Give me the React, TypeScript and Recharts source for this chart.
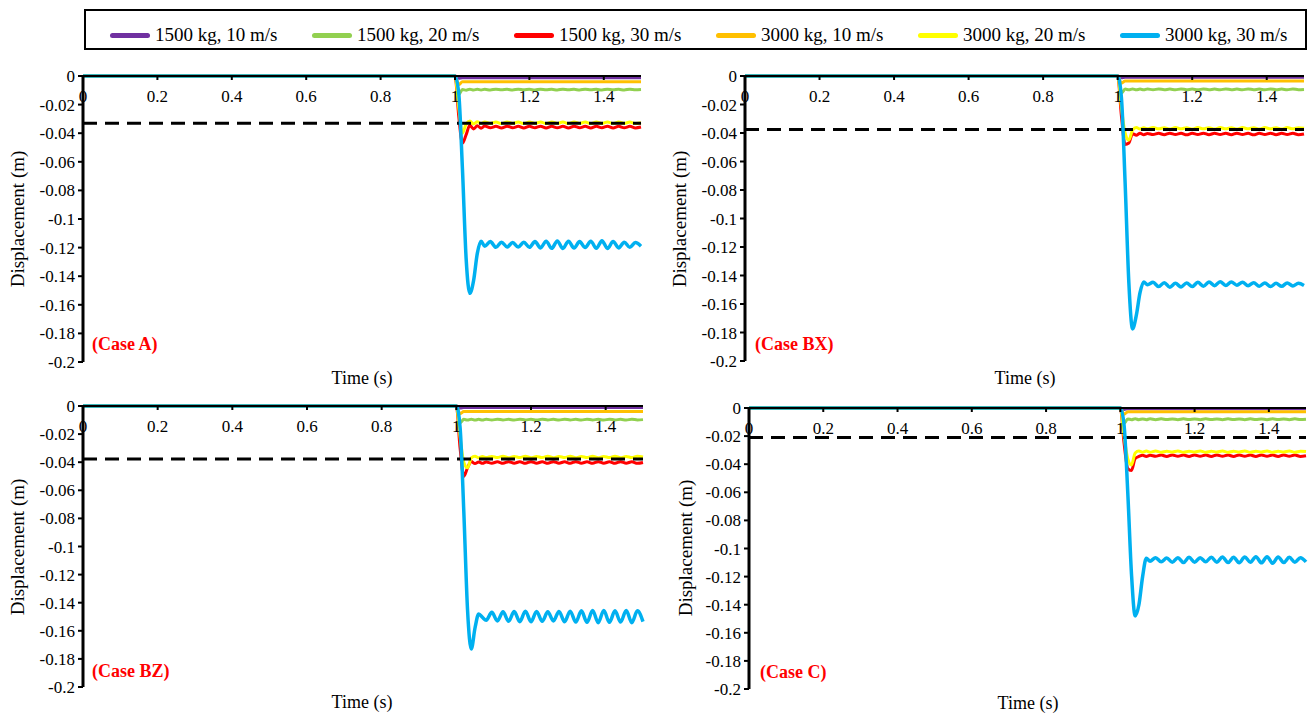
import React from "react";
import { Line, LineChart, XAxis, YAxis } from "recharts";

const FONT = '"Liberation Serif", "Times New Roman", serif';

// time grids (s)
const time = [
  0, 0.99, 1, 1.01, 1.02, 1.03, 1.04, 1.05, 1.06, 1.07, 1.08, 1.095, 1.11, 1.125, 1.14, 1.155, 1.17,
  1.185, 1.2, 1.215, 1.23, 1.245, 1.26, 1.275, 1.29, 1.305, 1.32, 1.335, 1.35, 1.365, 1.38, 1.395,
  1.41, 1.425, 1.44, 1.455, 1.47, 1.485, 1.5,
];
const timeFlat = [0, 0.99, 1, 1.01, 1.02, 1.5];
const timeLimit = [0, 1.5];

const xTicks = [0, 0.2, 0.4, 0.6, 0.8, 1, 1.2, 1.4];
const yTicks = [0, -0.02, -0.04, -0.06, -0.08, -0.1, -0.12, -0.14, -0.16, -0.18, -0.2];

const seriesNames = [
  "1500 kg, 10 m/s",
  "1500 kg, 20 m/s",
  "1500 kg, 30 m/s",
  "3000 kg, 10 m/s",
  "3000 kg, 20 m/s",
  "3000 kg, 30 m/s",
];
const seriesColors = ["#7030A0", "#92D050", "#FF0000", "#FFC000", "#FFFF00", "#00B0F0"];

// Case A
const purpleA = [0, 0, 0, -0.0015, -0.0012, -0.0012];
const orangeA = [0, 0, 0, -0.006, -0.004, -0.004];
const greenA = [
  0, 0, 0, -0.013, -0.0095, -0.0099, -0.0092, -0.0098, -0.0093, -0.0098, -0.0093,
  -0.0098, -0.0092, -0.0097, -0.0093, -0.0098, -0.0092, -0.0097, -0.0093, -0.0098, -0.0092,
  -0.0097, -0.0093, -0.0098, -0.0092, -0.0097, -0.0093, -0.0098, -0.0092, -0.0097, -0.0093,
  -0.0098, -0.0092, -0.0097, -0.0093, -0.0098, -0.0092, -0.0097, -0.0095,
];
const redA = [
  0, 0, 0, -0.028, -0.047, -0.041, -0.0345, -0.037, -0.0348, -0.0365, -0.035,
  -0.0362, -0.0352, -0.0363, -0.0351, -0.0362, -0.0352, -0.0364, -0.0352, -0.0362, -0.0351,
  -0.0363, -0.0352, -0.0362, -0.0352, -0.0363, -0.0351, -0.0362, -0.0352, -0.0364, -0.0352,
  -0.0362, -0.0351, -0.0363, -0.0352, -0.0362, -0.0352, -0.0363, -0.0357,
];
const yellowA = [
  0, 0, 0, -0.022, -0.04, -0.0335, -0.0315, -0.0335, -0.032, -0.0332, -0.0322,
  -0.0332, -0.0322, -0.0333, -0.0321, -0.0332, -0.0322, -0.0333, -0.0322, -0.0332, -0.0321,
  -0.0333, -0.0322, -0.0332, -0.0322, -0.0333, -0.0321, -0.0332, -0.0322, -0.0333, -0.0322,
  -0.0332, -0.0321, -0.0333, -0.0322, -0.0332, -0.0322, -0.0333, -0.0327,
];
const blueA = [
  0, 0, 0, -0.012, -0.065, -0.128, -0.152, -0.143, -0.124, -0.1155, -0.119,
  -0.1158, -0.1198, -0.1162, -0.1195, -0.1165, -0.1196, -0.1163, -0.1198, -0.1158, -0.1202,
  -0.1155, -0.1205, -0.1153, -0.1206, -0.1155, -0.1203, -0.1158, -0.12, -0.1155, -0.1205,
  -0.1152, -0.1206, -0.1157, -0.1202, -0.1162, -0.1198, -0.1165, -0.119,
];
const limitA = [-0.033, -0.033];

// Case BX
const purpleBX = [0, 0, 0, -0.0012, -0.0008, -0.0008];
const orangeBX = [0, 0, 0, -0.005, -0.0035, -0.0035];
const greenBX = [
  0, 0, 0, -0.012, -0.0092, -0.0097, -0.0091, -0.0097, -0.0092, -0.0097, -0.0091,
  -0.0097, -0.0091, -0.0096, -0.0092, -0.0097, -0.0091, -0.0096, -0.0092, -0.0097, -0.0091,
  -0.0096, -0.0092, -0.0097, -0.0091, -0.0096, -0.0092, -0.0097, -0.0091, -0.0096, -0.0092,
  -0.0097, -0.0091, -0.0096, -0.0092, -0.0097, -0.0091, -0.0096, -0.0094,
];
const redBX = [
  0, 0, 0, -0.028, -0.048, -0.047, -0.0405, -0.0415, -0.0402, -0.0412, -0.0403,
  -0.0411, -0.0402, -0.0412, -0.0401, -0.0411, -0.0402, -0.0413, -0.0402, -0.0411, -0.0401,
  -0.0412, -0.0402, -0.0411, -0.0402, -0.0412, -0.0401, -0.0411, -0.0402, -0.0413, -0.0402,
  -0.0411, -0.0401, -0.0412, -0.0402, -0.0411, -0.0402, -0.0412, -0.0407,
];
const yellowBX = [
  0, 0, 0, -0.022, -0.04, -0.045, -0.038, -0.0362, -0.0372, -0.0363, -0.0371,
  -0.0362, -0.0371, -0.0363, -0.0372, -0.0362, -0.0371, -0.0363, -0.0372, -0.0362, -0.0371,
  -0.0363, -0.0372, -0.0362, -0.0371, -0.0363, -0.0372, -0.0362, -0.0371, -0.0363, -0.0372,
  -0.0362, -0.0371, -0.0363, -0.0372, -0.0362, -0.0371, -0.0363, -0.0367,
];
const blueBX = [
  0, 0, 0, -0.015, -0.075, -0.145, -0.1775, -0.168, -0.152, -0.1445, -0.1465,
  -0.1448, -0.1478, -0.145, -0.1482, -0.1455, -0.148, -0.1452, -0.1478, -0.1448, -0.1475,
  -0.1445, -0.1472, -0.1443, -0.147, -0.1445, -0.1468, -0.1447, -0.1472, -0.145, -0.1475,
  -0.1452, -0.1478, -0.1455, -0.1476, -0.1452, -0.1473, -0.1455, -0.147,
];
const limitBX = [-0.0375, -0.0375];

// Case BZ
const purpleBZ = [0, 0, 0, -0.0015, -0.001, -0.001];
const orangeBZ = [0, 0, 0, -0.0055, -0.004, -0.004];
const greenBZ = [
  0, 0, 0, -0.012, -0.0095, -0.01, -0.0094, -0.01, -0.0095, -0.01, -0.0094,
  -0.01, -0.0094, -0.0099, -0.0095, -0.01, -0.0094, -0.0099, -0.0095, -0.01, -0.0094,
  -0.0099, -0.0095, -0.01, -0.0094, -0.0099, -0.0095, -0.01, -0.0094, -0.0099, -0.0095,
  -0.01, -0.0094, -0.0099, -0.0095, -0.01, -0.0094, -0.0099, -0.0097,
];
const redBZ = [
  0, 0, 0, -0.03, -0.05, -0.044, -0.0395, -0.041, -0.0398, -0.0408, -0.0398,
  -0.0407, -0.0397, -0.0408, -0.0396, -0.0407, -0.0397, -0.0408, -0.0396, -0.0407, -0.0397,
  -0.0408, -0.0396, -0.0407, -0.0397, -0.0408, -0.0396, -0.0407, -0.0397, -0.0408, -0.0396,
  -0.0407, -0.0397, -0.0408, -0.0396, -0.0407, -0.0397, -0.0408, -0.0402,
];
const yellowBZ = [
  0, 0, 0, -0.022, -0.04, -0.044, -0.037, -0.0358, -0.0368, -0.0359, -0.0367,
  -0.0359, -0.0367, -0.0358, -0.0368, -0.0359, -0.0367, -0.0358, -0.0368, -0.0359, -0.0367,
  -0.0358, -0.0368, -0.0359, -0.0367, -0.0358, -0.0368, -0.0359, -0.0367, -0.0358, -0.0368,
  -0.0359, -0.0367, -0.0358, -0.0368, -0.0359, -0.0367, -0.0358, -0.0363,
];
const blueBZ = [
  0, 0, 0, -0.015, -0.075, -0.145, -0.173, -0.158, -0.148, -0.1505, -0.1525,
  -0.1468, -0.153, -0.1465, -0.1532, -0.1463, -0.1535, -0.146, -0.1535, -0.1462, -0.1532,
  -0.1465, -0.153, -0.1462, -0.1535, -0.146, -0.1538, -0.1458, -0.154, -0.1455, -0.1542,
  -0.1455, -0.154, -0.1458, -0.1538, -0.1455, -0.1542, -0.1458, -0.1535,
];
const limitBZ = [-0.0377, -0.0377];

// Case C
const purpleC = [0, 0, 0, -0.001, -0.0006, -0.0006];
const orangeC = [0, 0, 0, -0.0045, -0.0027, -0.0027];
const greenC = [
  0, 0, 0, -0.011, -0.0078, -0.0083, -0.0077, -0.0083, -0.0078, -0.0083, -0.0077,
  -0.0083, -0.0077, -0.0082, -0.0078, -0.0083, -0.0077, -0.0082, -0.0078, -0.0083, -0.0077,
  -0.0082, -0.0078, -0.0083, -0.0077, -0.0082, -0.0078, -0.0083, -0.0077, -0.0082, -0.0078,
  -0.0083, -0.0077, -0.0082, -0.0078, -0.0083, -0.0077, -0.0082, -0.008,
];
const redC = [
  0, 0, 0, -0.025, -0.043, -0.0445, -0.036, -0.0345, -0.0336, -0.0345, -0.0336,
  -0.0344, -0.0335, -0.0345, -0.0334, -0.0344, -0.0335, -0.0345, -0.0334, -0.0344, -0.0335,
  -0.0345, -0.0334, -0.0344, -0.0335, -0.0345, -0.0334, -0.0344, -0.0335, -0.0345, -0.0334,
  -0.0344, -0.0335, -0.0345, -0.0334, -0.0344, -0.0335, -0.0345, -0.034,
];
const yellowC = [
  0, 0, 0, -0.02, -0.036, -0.0405, -0.032, -0.0306, -0.0315, -0.0306, -0.0315,
  -0.0306, -0.0315, -0.0307, -0.0314, -0.0306, -0.0315, -0.0307, -0.0314, -0.0306, -0.0315,
  -0.0307, -0.0314, -0.0306, -0.0315, -0.0307, -0.0314, -0.0306, -0.0315, -0.0307, -0.0314,
  -0.0306, -0.0315, -0.0307, -0.0314, -0.0306, -0.0315, -0.0307, -0.031,
];
const blueC = [
  0, 0, 0, -0.012, -0.06, -0.118, -0.148, -0.14, -0.12, -0.107, -0.109,
  -0.1065, -0.1095, -0.1068, -0.1098, -0.1065, -0.11, -0.1062, -0.1098, -0.1065, -0.1095,
  -0.1062, -0.1098, -0.106, -0.11, -0.1062, -0.1102, -0.106, -0.1098, -0.1058, -0.1102,
  -0.1058, -0.1105, -0.106, -0.11, -0.1062, -0.1098, -0.1065, -0.1095,
];
const limitC = [-0.021, -0.021];

type CaseData = {
  purple: number[];
  orange: number[];
  green: number[];
  red: number[];
  yellow: number[];
  blue: number[];
  limit: number[];
};

const zip = (ts: number[], vs: number[]) => ts.map((t, i) => ({ t, v: vs[i] }));

type PanelProps = {
  left: number;
  top: number;
  width: number;
  height: number;
  margin: { top: number; right: number; bottom: number; left: number };
  data: CaseData;
  caseLabel: string;
  caseAt: [number, number];
  timeAt: [number, number];
  dispAt: [number, number];
};

function Panel({ left, top, width, height, margin, data, caseLabel, caseAt, timeAt, dispAt }: PanelProps) {
  const common = { type: "monotone" as const, dataKey: "v", dot: false, isAnimationActive: false, strokeLinejoin: "round" as const };
  return (
    <>
      <div style={{ position: "absolute", left, top }}>
        <LineChart width={width} height={height} margin={margin}>
          <XAxis
            dataKey="t"
            type="number"
            domain={[0, 1.5]}
            ticks={xTicks}
            interval={0}
            orientation="top"
            mirror
            axisLine={{ stroke: "#000", strokeWidth: 2 }}
            tickLine={{ stroke: "#000", strokeWidth: 2 }}
            tickSize={4}
            tickMargin={10}
            tick={{ fill: "#000", fontSize: 17, fontFamily: FONT }}
          />
          <XAxis
            xAxisId="b"
            type="number"
            domain={[0, 1.5]}
            orientation="bottom"
            height={0}
            tick={false}
            tickLine={false}
            axisLine={{ stroke: "#000", strokeWidth: 2 }}
          />
          <YAxis
            type="number"
            domain={[-0.2, 0]}
            ticks={yTicks}
            interval={0}
            width={60}
            axisLine={{ stroke: "#000", strokeWidth: 3 }}
            tickLine={{ stroke: "#000", strokeWidth: 2 }}
            tickSize={5}
            tickMargin={3}
            tick={{ fill: "#000", fontSize: 17, fontFamily: FONT }}
          />
          <YAxis
            yAxisId="r"
            orientation="right"
            type="number"
            domain={[-0.2, 0]}
            width={0}
            tick={false}
            tickLine={false}
            axisLine={{ stroke: "#000", strokeWidth: 2 }}
          />
          <Line {...common} data={zip(timeFlat, data.purple)} stroke={seriesColors[0]} strokeWidth={3} />
          <Line {...common} data={zip(time, data.green)} stroke={seriesColors[1]} strokeWidth={3} />
          <Line {...common} data={zip(time, data.red)} stroke={seriesColors[2]} strokeWidth={3} />
          <Line {...common} data={zip(timeFlat, data.orange)} stroke={seriesColors[3]} strokeWidth={3} />
          <Line {...common} data={zip(time, data.yellow)} stroke={seriesColors[4]} strokeWidth={3} />
          <Line
            type="linear"
            dataKey="v"
            dot={false}
            isAnimationActive={false}
            data={zip(timeLimit, data.limit)}
            stroke="#000"
            strokeWidth={3}
            strokeDasharray="14 8"
          />
          <Line {...common} data={zip(time, data.blue)} stroke={seriesColors[5]} strokeWidth={3.5} />
        </LineChart>
      </div>
      <div
        style={{
          position: "absolute",
          left: caseAt[0],
          top: caseAt[1],
          color: "#FF0000",
          fontWeight: "bold",
          fontSize: 18,
          lineHeight: "18px",
          fontFamily: FONT,
          whiteSpace: "nowrap",
        }}
      >
        {caseLabel}
      </div>
      <div
        style={{
          position: "absolute",
          left: timeAt[0],
          top: timeAt[1],
          transform: "translateX(-50%)",
          fontSize: 18,
          lineHeight: "17px",
          fontFamily: FONT,
          whiteSpace: "nowrap",
        }}
      >
        Time (s)
      </div>
      <div
        style={{
          position: "absolute",
          left: dispAt[0],
          top: dispAt[1],
          transform: "translate(-50%, -50%) rotate(-90deg)",
          fontSize: 19,
          lineHeight: "19px",
          fontFamily: FONT,
          whiteSpace: "nowrap",
        }}
      >
        Displacement (m)
      </div>
    </>
  );
}

export default function App() {
  return (
    <div style={{ position: "absolute", left: 0, top: 0, width: 1309, height: 714, background: "#fff", overflow: "hidden" }}>
      <div
        style={{
          position: "absolute",
          left: 84,
          top: 9,
          width: 1223,
          height: 41,
          border: "2px solid #000",
          boxSizing: "border-box",
        }}
      />
      <div style={{ position: "absolute", left: 110, top: 24, display: "flex" }}>
        {seriesNames.map((name, i) => (
          <div key={name} style={{ width: 202, display: "flex", alignItems: "center" }}>
            <span style={{ width: 40, height: 5, borderRadius: 3, background: seriesColors[i], flex: "none" }} />
            <span style={{ marginLeft: 5, fontSize: 19, lineHeight: "22px", fontFamily: FONT, whiteSpace: "nowrap" }}>{name}</span>
          </div>
        ))}
      </div>

      <Panel
        left={0}
        top={60}
        width={660}
        height={330}
        margin={{ top: 16, right: 19, bottom: 28, left: 23 }}
        data={{ purple: purpleA, orange: orangeA, green: greenA, red: redA, yellow: yellowA, blue: blueA, limit: limitA }}
        caseLabel="(Case A)"
        caseAt={[92, 335]}
        timeAt={[362, 370]}
        dispAt={[17, 219]}
      />
      <Panel
        left={662}
        top={60}
        width={647}
        height={330}
        margin={{ top: 16, right: 5, bottom: 29, left: 23 }}
        data={{ purple: purpleBX, orange: orangeBX, green: greenBX, red: redBX, yellow: yellowBX, blue: blueBX, limit: limitBX }}
        caseLabel="(Case BX)"
        caseAt={[755, 335]}
        timeAt={[1025, 370]}
        dispAt={[679, 219]}
      />
      <Panel
        left={0}
        top={390}
        width={660}
        height={324}
        margin={{ top: 16, right: 17, bottom: 27, left: 23 }}
        data={{ purple: purpleBZ, orange: orangeBZ, green: greenBZ, red: redBZ, yellow: yellowBZ, blue: blueBZ, limit: limitBZ }}
        caseLabel="(Case BZ)"
        caseAt={[92, 662]}
        timeAt={[362, 694]}
        dispAt={[17, 547]}
      />
      <Panel
        left={662}
        top={390}
        width={647}
        height={324}
        margin={{ top: 18, right: 3, bottom: 25, left: 27 }}
        data={{ purple: purpleC, orange: orangeC, green: greenC, red: redC, yellow: yellowC, blue: blueC, limit: limitC }}
        caseLabel="(Case C)"
        caseAt={[760, 663]}
        timeAt={[1028, 695]}
        dispAt={[685, 548]}
      />
    </div>
  );
}
